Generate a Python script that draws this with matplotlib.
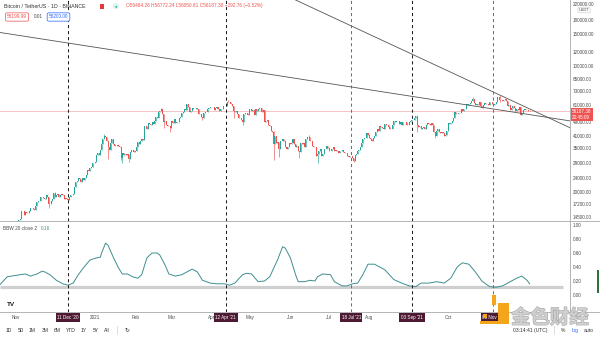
import numpy as np
import pandas as pd
import matplotlib
matplotlib.use("Agg")
import matplotlib.pyplot as plt
import matplotlib.dates as mdates
from matplotlib.patches import Rectangle
from matplotlib.lines import Line2D
import matplotlib.patheffects as pe

plt.rcParams['font.family'] = ['Liberation Sans', 'DejaVu Sans']

# ---------------- data ----------------
symbol_title = "Bitcoin / TetherUS · 1D · BINANCE"
first_day = "2020-10-19"

# daily closes (thousand USDT), month by month
closes_k = (
    [11.74, 11.92, 12.82, 12.97, 12.93, 13.11, 13.03, 13.07, 13.65, 13.28, 13.46, 13.56, 13.80]
    + [13.76, 13.56, 14.03, 14.14, 15.59, 15.58, 14.83, 15.48, 15.33, 15.30, 15.70, 16.28, 16.32, 16.07, 15.96,
       16.72, 17.65, 17.80, 17.82, 18.66, 18.70, 18.41, 18.37, 19.16, 18.72, 17.15, 17.14, 17.72, 18.18, 19.70]
    + [18.76, 19.20, 19.42, 18.65, 19.15, 19.36, 19.17, 18.32, 18.55, 18.25, 18.03, 18.80, 19.17, 19.27, 19.43,
       21.33, 22.80, 23.11, 23.82, 23.45, 22.72, 23.82, 23.24, 23.73, 24.71, 26.49, 26.27, 27.04, 27.37, 28.88, 28.95]
    + [29.37, 32.19, 33.00, 32.02, 34.03, 36.82, 39.37, 40.67, 40.24, 38.24, 35.54, 34.01, 37.39, 39.16, 36.77,
       36.01, 35.82, 36.63, 35.89, 35.47, 30.83, 33.01, 32.08, 32.26, 32.25, 32.47, 30.37, 33.40, 34.27, 34.32, 33.11]
    + [33.52, 35.51, 37.62, 36.94, 38.29, 39.26, 38.90, 46.20, 46.48, 44.84, 47.97, 47.41, 47.23, 48.72, 47.94,
       49.20, 52.15, 51.68, 55.89, 55.92, 57.41, 54.20, 48.89, 49.68, 47.09, 46.34, 46.16, 45.24]
    + [49.63, 48.38, 50.54, 48.37, 48.76, 48.88, 51.21, 52.38, 54.88, 55.86, 57.77, 57.22, 61.19, 59.12, 55.66,
       56.46, 58.79, 57.63, 58.03, 58.10, 57.35, 54.08, 54.34, 52.30, 51.30, 55.03, 55.85, 55.78, 57.63, 58.73, 58.92]
    + [59.09, 59.03, 57.08, 58.20, 59.12, 57.99, 56.02, 57.98, 58.08, 59.77, 59.96, 59.84, 63.50, 62.96, 63.21,
       61.35, 60.01, 56.15, 55.63, 56.47, 53.80, 51.70, 51.14, 50.05, 49.00, 54.02, 55.03, 54.82, 53.56, 57.69]
    + [57.80, 56.58, 57.17, 53.20, 57.44, 56.40, 57.36, 58.80, 58.23, 55.86, 56.70, 49.15, 49.72, 49.88, 46.76,
       46.43, 43.54, 42.91, 36.73, 40.63, 37.29, 37.72, 34.77, 38.40, 38.39, 39.29, 38.55, 35.66, 34.65, 35.68, 37.34]
    + [36.69, 37.58, 39.19, 36.86, 35.52, 35.80, 33.58, 33.38, 37.39, 36.69, 37.34, 35.55, 39.10, 40.52, 40.14,
       38.35, 38.09, 35.82, 35.48, 35.60, 31.68, 32.51, 33.68, 34.66, 31.59, 32.28, 34.70, 34.49, 35.91, 35.04]
    + [33.57, 33.80, 34.67, 35.29, 33.69, 34.23, 33.86, 32.88, 33.81, 33.52, 34.26, 33.09, 32.73, 32.82, 31.78,
       31.42, 31.53, 31.78, 30.84, 29.79, 32.14, 32.31, 33.58, 34.29, 35.38, 37.27, 39.46, 40.02, 40.02, 42.21, 41.46]
    + [39.85, 39.15, 38.21, 39.72, 40.87, 42.84, 44.61, 43.83, 46.29, 45.59, 45.55, 44.43, 47.83, 47.11, 47.02,
       45.94, 44.69, 44.74, 46.76, 49.34, 48.90, 49.32, 49.55, 47.71, 48.99, 46.85, 49.07, 48.90, 48.81, 47.05, 47.17]
    + [48.85, 49.28, 49.94, 49.92, 51.76, 52.66, 46.86, 46.07, 46.37, 44.85, 45.17, 46.03, 44.95, 47.11, 48.14,
       47.75, 47.30, 48.31, 47.26, 42.89, 40.69, 43.57, 44.90, 42.83, 42.71, 43.21, 42.24, 41.03, 41.52, 43.79]
    + [48.14, 47.66, 48.23, 49.25, 51.49, 55.34, 53.81, 53.97, 54.96, 54.66, 57.47, 56.01, 57.37, 57.35, 61.67,
       60.88, 61.53, 62.04, 64.28, 66.00, 62.21, 60.69, 61.29, 60.86, 63.08, 60.33, 58.46, 60.59, 62.27, 61.89, 61.34]
    + [61.00, 63.23, 62.94, 61.45, 61.01, 61.53, 63.33, 67.55, 66.93, 64.86, 64.92, 64.16, 64.47, 65.47, 63.56,
       60.11, 60.37, 56.94, 58.12, 59.76, 58.68, 56.29, 57.57, 57.18, 58.96, 53.73, 54.72, 57.27, 57.81, 56.95]
    + [57.18, 56.48014]
)

# current (live) candle
last_open, last_high, last_low, last_close = 56484.26, 56772.24, 56050.81, 56187.38
bid_price, ask_price, spread = 56199.99, 56200.00, 0.01
bar_countdown = "20:45:09"
clock_text = "03:14:41 (UTC)"

# notable wick extremes (thousand USDT)
wick_lows_k = {"2020-11-26": 16.33, "2021-01-11": 30.42, "2021-01-21": 30.07, "2021-01-22": 28.85,
               "2021-01-27": 29.24, "2021-02-23": 45.00, "2021-02-28": 43.00, "2021-03-25": 50.43,
               "2021-04-18": 51.54, "2021-04-25": 47.04, "2021-05-12": 48.60, "2021-05-19": 30.00,
               "2021-05-23": 31.11, "2021-06-08": 31.00, "2021-06-22": 28.80, "2021-07-20": 29.28,
               "2021-09-07": 42.80, "2021-09-21": 39.60, "2021-11-10": 62.80, "2021-11-26": 53.50}
wick_highs_k = {"2020-12-01": 19.85, "2021-01-08": 41.95, "2021-02-21": 58.35, "2021-03-13": 61.80,
                "2021-04-14": 64.85, "2021-05-19": 43.50, "2021-06-15": 41.30, "2021-09-07": 52.90,
                "2021-10-20": 67.00, "2021-11-10": 69.00}

price_ticks = [14500, 17200, 20000, 24000, 29000, 35000, 41000, 49000, 61000, 73000,
               85000, 100000, 120000, 150000, 180000, 220000]
bbw_ticks = [0.0, 0.2, 0.4, 0.6, 0.8, 1.0]

bbw_dates = ["2020-10-19", "2020-10-25", "2020-11-04", "2020-11-08", "2020-11-12", "2020-11-17", "2020-11-21",
             "2020-11-23", "2020-11-27", "2020-12-02", "2020-12-07", "2020-12-11", "2020-12-15", "2020-12-19",
             "2020-12-23", "2020-12-28", "2021-01-02", "2021-01-05", "2021-01-06", "2021-01-09", "2021-01-11",
             "2021-01-15", "2021-01-19", "2021-01-22", "2021-01-26", "2021-01-30", "2021-02-03", "2021-02-06",
             "2021-02-10", "2021-02-14", "2021-02-18", "2021-02-20", "2021-02-24", "2021-02-27", "2021-03-04",
             "2021-03-09", "2021-03-13", "2021-03-17", "2021-03-21", "2021-03-25", "2021-03-31", "2021-04-05",
             "2021-04-11", "2021-04-15", "2021-04-19", "2021-04-25", "2021-04-28", "2021-05-02", "2021-05-07",
             "2021-05-12", "2021-05-16", "2021-05-22", "2021-05-26", "2021-05-28", "2021-06-01", "2021-06-05",
             "2021-06-07", "2021-06-12", "2021-06-16", "2021-06-20", "2021-06-22", "2021-06-26", "2021-07-02",
             "2021-07-05", "2021-07-11", "2021-07-15", "2021-07-19", "2021-07-23", "2021-07-27", "2021-07-31",
             "2021-08-05", "2021-08-09", "2021-08-13", "2021-08-20", "2021-08-26", "2021-09-01", "2021-09-06",
             "2021-09-10", "2021-09-16", "2021-09-22", "2021-09-28", "2021-10-03", "2021-10-08", "2021-10-12",
             "2021-10-17", "2021-10-22", "2021-10-27", "2021-11-02", "2021-11-07", "2021-11-12", "2021-11-18",
             "2021-11-23", "2021-11-27", "2021-12-01", "2021-12-03"]
bbw_values = [0.14, 0.26, 0.29, 0.30, 0.27, 0.30, 0.34, 0.33, 0.29, 0.21, 0.16, 0.14, 0.17, 0.29, 0.39, 0.50,
              0.53, 0.54, 0.60, 0.74, 0.71, 0.54, 0.39, 0.30, 0.30, 0.26, 0.24, 0.29, 0.53, 0.60, 0.60, 0.57,
              0.43, 0.30, 0.27, 0.29, 0.33, 0.37, 0.33, 0.21, 0.17, 0.16, 0.16, 0.14, 0.17, 0.29, 0.31, 0.30,
              0.19, 0.20, 0.26, 0.50, 0.69, 0.67, 0.53, 0.29, 0.19, 0.19, 0.21, 0.20, 0.26, 0.30, 0.29, 0.19,
              0.13, 0.13, 0.16, 0.17, 0.29, 0.44, 0.44, 0.40, 0.36, 0.22, 0.17, 0.13, 0.12, 0.17, 0.17, 0.19,
              0.17, 0.24, 0.40, 0.46, 0.44, 0.33, 0.20, 0.12, 0.11, 0.13, 0.19, 0.24, 0.27, 0.21, 0.16]
bbw_floor = 0.12
bbw_floor_end = "2021-12-29"

marker_dates = ["2020-12-11", "2021-04-12", "2021-07-18", "2021-09-03", "2021-11-05"]
marker_labels = ["11 Dec '20", "12 Apr '21", "18 Jul '21", "03 Sep '21", "05 Nov '21"]
marker_colors = ["#1f1f1f", "#1f1f1f", "#7d6676", "#1f1f1f", "#7d6676"]

# month labels left visible on the time axis (the others sit under the date tags)
month_ticks = ["2020-11-01", "2021-01-01", "2021-02-01", "2021-03-01", "2021-04-01",
               "2021-05-01", "2021-06-01", "2021-07-01", "2021-08-01", "2021-10-01"]
month_labels = ["Nov", "2021", "Feb", "Mar", "Apr", "May", "Jun", "Jul", "Aug", "Oct"]

trend_upper_dates = ["2021-06-05", "2022-01-03"]
trend_upper_prices = [232600, 45500]
trend_lower_dates = ["2020-10-19", "2022-01-03"]
trend_lower_prices = [153700, 49600]

view_start, view_end = "2020-10-19 10:00", "2022-01-03 05:00"
price_range = (13780, 232600)
bbw_range = (-0.243, 1.057)

range_buttons = ["1D", "5D", "1M", "3M", "6M", "YTD", "1Y", "5Y", "All"]

# ---------------- colours ----------------
UP, DOWN = "#26a69a", "#ef5350"
GRID = "#a8a8a8"
TXT = "#4a4a4a"
BBW_COLOR = "#3e8e8e"
TAG = "#4e1a33"

W, H = 600, 338
fig = plt.figure(figsize=(W / 100, H / 100), dpi=100, facecolor="white")


def fx(px):
    return px / W


def fy(py):
    return 1 - py / H


ax = fig.add_axes([0, fy(221), fx(570), 221 / H])
ax2 = fig.add_axes([0, fy(312), fx(570), 91 / H], sharex=ax)

# ---------------- candles ----------------
closes = np.array(closes_k) * 1000.0
closes = np.append(closes, last_close)
dates = pd.date_range(first_day, periods=len(closes), freq="D")
xs = mdates.date2num(dates)
opens = np.concatenate([[closes[0]], closes[:-1]])
opens[-1] = last_open
body_lo = np.minimum(opens, closes)
body_hi = np.maximum(opens, closes)
highs = body_hi.copy()
lows = body_lo.copy()
day_index = {d.strftime("%Y-%m-%d"): i for i, d in enumerate(dates)}
for d, v in wick_lows_k.items():
    i = day_index[d]
    lows[i] = min(lows[i], v * 1000)
for d, v in wick_highs_k.items():
    i = day_index[d]
    highs[i] = max(highs[i], v * 1000)
highs[-1], lows[-1] = last_high, last_low
colors = np.where(closes >= opens, UP, DOWN)

ax.set_yscale("log")
ax.vlines(xs, lows, highs, colors=colors, lw=0.45, zorder=3)
ax.bar(xs, body_hi - body_lo, bottom=body_lo, width=0.78, color=colors, linewidth=0, zorder=3)

# last price line
ax.axhline(last_close, color="#f5b9b9", lw=0.6, zorder=1)

# trend lines
ax.plot(mdates.date2num(pd.to_datetime(trend_upper_dates)), trend_upper_prices,
        color="#555555", lw=0.6, zorder=4)
ax.plot(mdates.date2num(pd.to_datetime(trend_lower_dates)), trend_lower_prices,
        color="#555555", lw=0.6, zorder=4)

ax.set_xlim(mdates.date2num(pd.Timestamp(view_start)), mdates.date2num(pd.Timestamp(view_end)))
ax.set_ylim(*price_range)

ax.yaxis.tick_right()
ax.set_yticks(price_ticks)
ax.set_yticklabels([f"{p:.2f}" for p in price_ticks])
ax.yaxis.set_minor_locator(matplotlib.ticker.NullLocator())
ax.tick_params(axis="y", length=0, pad=2.2, labelsize=3.3, labelcolor=TXT)
ax.tick_params(axis="x", length=0, labelbottom=False)
for s in ["top", "left", "bottom"]:
    ax.spines[s].set_visible(False)
ax.spines["right"].set_color(GRID)
ax.spines["right"].set_linewidth(0.6)

# ---------------- BBW pane ----------------
bx = mdates.date2num(pd.to_datetime(bbw_dates))
ax2.hlines(bbw_floor, mdates.date2num(pd.Timestamp(view_start)),
           mdates.date2num(pd.Timestamp(bbw_floor_end)), color="#cfcfcf", lw=2.3, zorder=1)
ax2.plot(bx, bbw_values, color=BBW_COLOR, lw=0.7, zorder=3)
ax2.set_ylim(*bbw_range)
ax2.yaxis.tick_right()
ax2.set_yticks(bbw_ticks)
ax2.set_yticklabels([f"{v:.2f}" for v in bbw_ticks])
ax2.tick_params(axis="y", length=0, pad=2.2, labelsize=3.3, labelcolor=TXT)
ax2.set_xticks(mdates.date2num(pd.to_datetime(month_ticks)))
ax2.set_xticklabels(month_labels)
ax2.tick_params(axis="x", length=0, pad=2.4, labelsize=3.3, labelcolor=TXT)
for s in ["top", "left", "bottom"]:
    ax2.spines[s].set_visible(False)
ax2.spines["right"].set_color(GRID)
ax2.spines["right"].set_linewidth(0.6)

# vertical date markers through both panes, with highlighted time-axis tags
for d, lab, c in zip(marker_dates, marker_labels, marker_colors):
    xv = mdates.date2num(pd.Timestamp(d))
    for a in (ax, ax2):
        a.axvline(xv, color=c, lw=0.75, ls=(0, (3, 2.8)), zorder=5)
    ax2.annotate(lab, xy=(xv, 0), xycoords=("data", "axes fraction"), xytext=(0, -4.0),
                 textcoords="offset points", ha="center", va="center", fontsize=3.3,
                 color="white", annotation_clip=False, zorder=6,
                 bbox=dict(boxstyle="square,pad=0.35", fc=TAG, ec="none"))

# pane separators
fig.add_artist(Line2D([0, 1], [fy(221), fy(221)], transform=fig.transFigure, color=GRID, lw=0.6))
fig.add_artist(Line2D([0, 1], [fy(312), fy(312)], transform=fig.transFigure, color=GRID, lw=0.6))

# ---------------- price-axis tags ----------------
ax.annotate(f"{last_close:.2f}\n{bar_countdown}", xy=(1, last_close), xycoords=("axes fraction", "data"),
            xytext=(1.6, -2.3), textcoords="offset points", ha="left", va="center", fontsize=3.3,
            color="white", linespacing=1.15, annotation_clip=False, zorder=7,
            bbox=dict(boxstyle="square,pad=0.3", fc="#ef5350", ec="none"))
fig.text(fx(584), fy(10), "USDT", fontsize=2.9, color=TXT, ha="center", va="center",
         bbox=dict(boxstyle="round,pad=0.2", fc="white", ec="#c8c8c8", lw=0.4))

# ---------------- header ----------------
fig.text(fx(4), fy(6), symbol_title, fontsize=3.8, color="#333333", ha="left", va="center")
fig.add_artist(Rectangle((fx(100), fy(8.5)), 4 / W, 5 / H, transform=fig.transFigure, fc="#e53935", ec="none"))
fig.text(fx(116), fy(6), "●", fontsize=3.0, color=UP, ha="center", va="center",
         bbox=dict(boxstyle="circle,pad=0.25", fc="#d9f3ef", ec="none"))
chg = last_close - closes[-2]
pct = chg / closes[-2] * 100
ohlc = (f"O{last_open:.2f} H{last_high:.2f} L{last_low:.2f} C{last_close:.2f} "
        f"{chg:+.2f} ({pct:+.2f}%)").replace("-", "\u2212")
fig.text(fx(126), fy(6), ohlc, fontsize=3.4, color=DOWN, ha="left", va="center")
fig.text(fx(17), fy(17), f"{bid_price:.2f}", fontsize=3.4, color=DOWN, ha="center", va="center",
         bbox=dict(boxstyle="round,pad=0.35", fc="white", ec=DOWN, lw=0.5))
fig.text(fx(38), fy(17), f"{spread:.2f}", fontsize=3.4, color=TXT, ha="center", va="center")
fig.text(fx(58.5), fy(17), f"{ask_price:.2f}", fontsize=3.4, color="#2962ff", ha="center", va="center",
         bbox=dict(boxstyle="round,pad=0.35", fc="white", ec="#2962ff", lw=0.5))

fig.text(fx(3), fy(228.5), "BBW 20 close 2", fontsize=3.4, color=TXT, ha="left", va="center")
fig.text(fx(41), fy(228.5), f"{bbw_values[-1]:.2f}", fontsize=3.4, color=BBW_COLOR, ha="left", va="center")

# TradingView mark
fig.text(fx(11), fy(304), "TV", fontsize=4.6, color="#131722", ha="center", va="center", fontweight="heavy")

# ---------------- bottom toolbar ----------------
for lab, px in zip(range_buttons, [9, 21, 32, 45, 57, 71, 84, 96, 107]):
    fig.text(fx(px), fy(330), lab, fontsize=3.6, color="#333333", ha="center", va="center")
fig.add_artist(Line2D([fx(117), fx(117)], [fy(326), fy(334)], transform=fig.transFigure, color="#d0d0d0", lw=0.5))
fig.text(fx(127), fy(330), "\u21bb", fontsize=4.2, color="#333333", ha="center", va="center",
         family=["DejaVu Sans"])
fig.text(fx(530), fy(330.5), clock_text, fontsize=3.6, color="#333333", ha="center", va="center")
fig.add_artist(Line2D([fx(554), fx(554)], [fy(326), fy(334)], transform=fig.transFigure, color="#d0d0d0", lw=0.5))
fig.text(fx(563), fy(330.5), "%", fontsize=3.6, color="#333333", ha="center", va="center")
fig.text(fx(575), fy(330.5), "log", fontsize=3.6, color="#2962ff", ha="center", va="center")
fig.text(fx(589), fy(330.5), "auto", fontsize=3.6, color="#333333", ha="center", va="center")

# scroll indicator at the right edge
fig.add_artist(Rectangle((fx(596.5), fy(293)), 2.5 / W, 23 / H, transform=fig.transFigure,
                         fc="#2f6f3c", ec="none"))

# ---------------- watermark ----------------
ORANGE = "#f3a51c"
for (x0, y0, w, h) in [(492, 295, 4, 10), (498, 303, 11, 20), (480, 321, 29, 3), (483, 314, 4, 4)]:
    fig.add_artist(Rectangle((fx(x0), fy(y0 + h)), w / W, h / H, transform=fig.transFigure,
                             fc=ORANGE, ec="none", zorder=8))
fig.text(fx(550), fy(318), "金色财经", fontsize=14, color="#cfcfcf", ha="center", va="center",
         family=["Noto Sans CJK SC"], fontweight="bold", zorder=9,
         path_effects=[pe.withStroke(linewidth=0.8, foreground="#a9a9a9")])

fig.savefig("out.png", dpi=100, facecolor="white")
